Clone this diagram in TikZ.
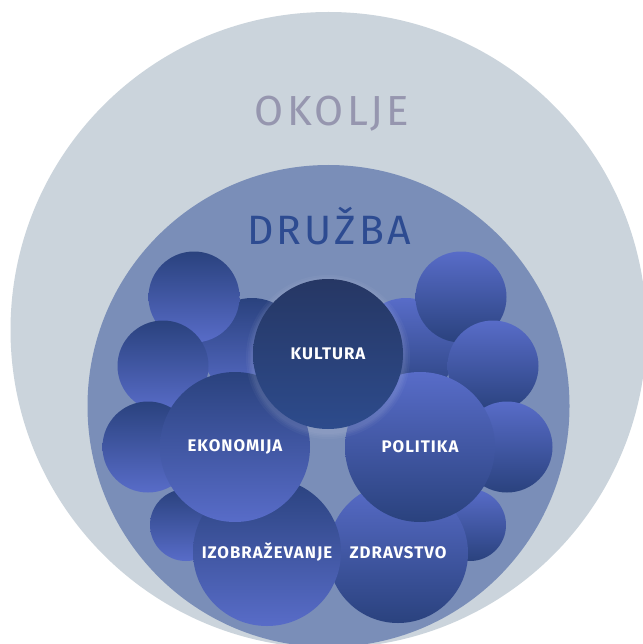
\documentclass[tikz,border=0pt]{standalone}
\usepackage{fontspec}
\setmainfont{Fira Sans}
\newfontfamily\headfont[LetterSpace=8]{Fira Sans}
\newfontfamily\tagfont[LetterSpace=6]{Fira Sans}
\usetikzlibrary{calc}

\definecolor{okoljegray}{RGB}{203,212,220}
\definecolor{druzbablue}{RGB}{122,142,184}
\definecolor{okoljetext}{RGB}{150,150,175}
\definecolor{druzbatext}{RGB}{45,75,145}
\definecolor{bubbledark}{RGB}{42,66,126}
\definecolor{bubblelight}{RGB}{88,108,200}
\definecolor{kulturatop}{RGB}{38,55,100}
\definecolor{kulturabottom}{RGB}{45,75,140}

\begin{document}
\begin{tikzpicture}[%
  x=1pt, y=-1pt,
  bubble/.style={circle, minimum size=#1, inner sep=0pt, text=white},
  darktop/.style={top color=bubbledark, bottom color=bubblelight},
  lighttop/.style={top color=bubblelight, bottom color=bubbledark},
  bubbletext/.style={font=\tagfont\bfseries\fontsize{16.8}{17}\selectfont},
]

  \fill[white] (0,0) rectangle (642,644);
  \useasboundingbox (0,0) rectangle (642,644);

  \node[circle, minimum size=636pt, fill=okoljegray] (okolje) at (328.5,330) {};
  \node[circle, minimum size=482pt, fill=druzbablue] (druzba) at (328.5,406) {};

  \node[text=okoljetext, font=\headfont\fontsize{42}{42}\selectfont] (okoljelabel) at (332,114) {OKOLJE};
  \node[text=druzbatext, font=\headfont\fontsize{41}{41}\selectfont] (druzbalabel) at (329,226) {DRUŽBA};

  % hidden behind kultura
  \node[bubble=100pt, darktop] (lh) at (252,348) {};
  \node[bubble=100pt, lighttop] (rh) at (406,348) {};

  % left side
  \node[bubble=91pt, darktop] (l1) at (194,297) {};
  \node[bubble=91pt, darktop] (l2) at (163,366) {};
  \node[bubble=91pt, darktop] (l3) at (148,447) {};
  \node[bubble=72pt, darktop] (l4) at (186,525) {};

  % right side
  \node[bubble=91pt, lighttop] (r1) at (461,297) {};
  \node[bubble=91pt, lighttop] (r2) at (493,366) {};
  \node[bubble=91pt, lighttop] (r3) at (507,447) {};
  \node[bubble=72pt, lighttop] (r4) at (470,525) {};

  \node[bubble=140pt, lighttop, bubbletext] (zdravstvo) at (398,553) {ZDRAVSTVO};
  \node[bubble=148pt, darktop, bubbletext] (izobrazevanje) at (267,552) {IZOBRAŽEVANJE};
  \node[bubble=150pt, darktop, bubbletext] (ekonomija) at (235,447) {EKONOMIJA};
  \node[bubble=150pt, lighttop, bubbletext] (politika) at (420,447) {POLITIKA};

  \foreach \g in {164,160,157,154}
    \fill[white, opacity=0.035] (328,357) circle (\g/2);
  \node[bubble=150pt, top color=kulturatop, bottom color=kulturabottom, bubbletext] (kultura) at (328,354) {KULTURA};

\end{tikzpicture}
\end{document}
